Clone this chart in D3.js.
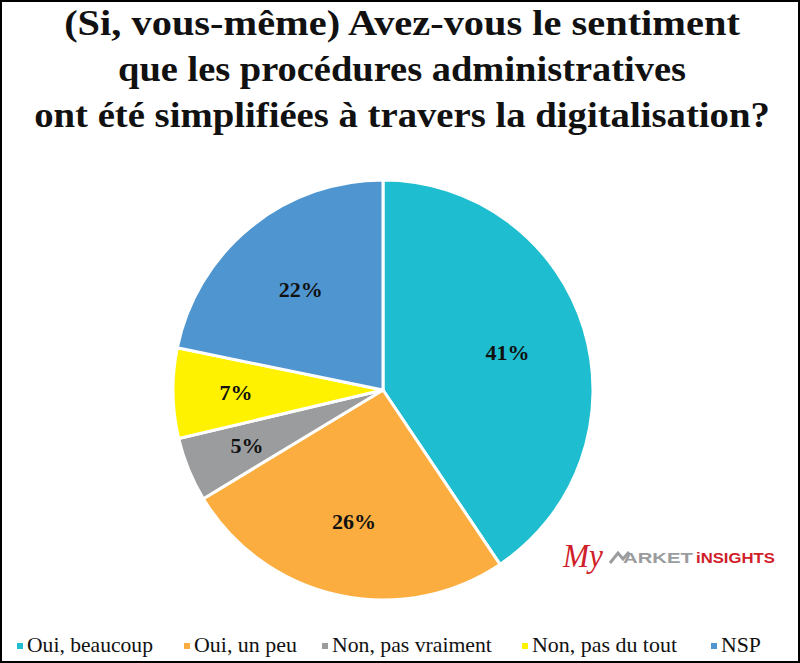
<!DOCTYPE html>
<html>
<head>
<meta charset="utf-8">
<script src="https://cdn.jsdelivr.net/npm/d3@7"></script>
<style>
  body { margin: 0; background: #fff; }
  svg { display: block; }
</style>
</head>
<body>
<div id="chart"></div>
<script>
// data
const categories = ["Oui, beaucoup", "Oui, un peu", "Non, pas vraiment", "Non, pas du tout", "NSP"];
const values = [41, 26, 5, 7, 22];
const colors = ["#1ebdcf", "#fbae3f", "#9b9c9e", "#fff200", "#4f96d0"];
const titleLines = [
  "(Si, vous-même) Avez-vous le sentiment",
  "que les procédures administratives",
  "ont été simplifiées à travers la digitalisation?"
];

const SERIF = '"Liberation Serif", "Times New Roman", serif';
const SANS = '"Liberation Sans", Arial, sans-serif';

const width = 800, height = 663;
const cx = 383, cy = 390, radius = 210;

const svg = d3.select("#chart").append("svg")
  .attr("width", width)
  .attr("height", height);

// squeeze a text horizontally to a given width, anchored at x (start) or centre
function fitWidth(sel, w, x, y, anchor) {
  sel.each(function (d, i) {
    const natural = this.getComputedTextLength();
    const target = typeof w === "function" ? w(d, i) : w;
    const tx = typeof x === "function" ? x(d, i) : x;
    const ty = typeof y === "function" ? y(d, i) : y;
    d3.select(this)
      .attr("text-anchor", anchor)
      .attr("transform", `translate(${tx},${ty}) scale(${target / natural},1)`);
  });
}

// frame
svg.append("rect")
  .attr("x", 1).attr("y", 1)
  .attr("width", width - 2).attr("height", height - 2)
  .attr("fill", "#fff")
  .attr("stroke", "#000")
  .attr("stroke-width", 2);

// title
const titleWidths = [676, 568, 736];
svg.append("g")
  .selectAll("text")
  .data(titleLines)
  .join("text")
  .style("font-family", SERIF)
  .style("font-weight", "bold")
  .style("font-size", "36px")
  .attr("fill", "#111")
  .text(d => d)
  .call(fitWidth, (d, i) => titleWidths[i], width / 2 + 2, (d, i) => 35 + i * 46, "middle");

// pie
const table = categories.map((c, i) => ({ name: c, value: values[i], color: colors[i] }));
const pie = d3.pie().sort(null).value(d => d.value);
const arc = d3.arc().innerRadius(0).outerRadius(radius);
const arcs = pie(table);

const g = svg.append("g").attr("transform", `translate(${cx},${cy})`);

g.selectAll("path")
  .data(arcs)
  .join("path")
  .attr("d", arc)
  .attr("fill", d => d.data.color)
  .attr("stroke", "#fff")
  .attr("stroke-width", 3)
  .attr("stroke-linejoin", "round");

// labels, small slices pulled a bit further out
const labelR = [0.62, 0.64, 0.70, 0.70, 0.62];
g.selectAll("text")
  .data(arcs)
  .join("text")
  .style("font-family", SERIF)
  .style("font-weight", "bold")
  .style("font-size", "22px")
  .attr("transform", (d, i) => {
    const a = (d.startAngle + d.endAngle) / 2;
    const r = radius * labelR[i];
    return `translate(${Math.sin(a) * r},${-Math.cos(a) * r})`;
  })
  .attr("text-anchor", "middle")
  .attr("dominant-baseline", "central")
  .attr("fill", "#111")
  .text(d => d.data.value + "%");

// legend
const legendX = [17, 184, 322, 522, 711];
const legendW = [126, 103, 160, 145, 40];
const legend = svg.append("g")
  .selectAll("g")
  .data(table)
  .join("g")
  .attr("transform", (d, i) => `translate(${legendX[i]},646)`);

legend.append("rect")
  .attr("x", 0).attr("y", -3)
  .attr("width", 6).attr("height", 6)
  .attr("fill", d => d.color);

legend.append("text")
  .style("font-family", SERIF)
  .style("font-size", "21px")
  .attr("fill", "#111")
  .text(d => d.name)
  .call(fitWidth, (d, i) => legendW[i], 10, 6, "start");

// logo
const logo = svg.append("g").attr("transform", "translate(563,563)");
logo.append("text")
  .style("font-family", SERIF)
  .style("font-style", "italic")
  .style("font-size", "34px")
  .attr("fill", "#d0202a")
  .text("My")
  .call(fitWidth, 40, 0, 4, "start");
logo.append("polyline")
  .attr("points", "47,0 55,-10 60,-4 66,-11")
  .attr("fill", "none")
  .attr("stroke", "#9a9c9e")
  .attr("stroke-width", 3);
logo.append("text")
  .style("font-family", SANS)
  .style("font-weight", "bold")
  .style("font-size", "15px")
  .attr("fill", "#9a9c9e")
  .text("ARKET")
  .call(fitWidth, 70, 60, 0, "start");
logo.append("text")
  .style("font-family", SANS)
  .style("font-weight", "bold")
  .style("font-size", "15px")
  .attr("fill", "#d0202a")
  .text("iNSIGHTS")
  .call(fitWidth, 79, 133, 0, "start");
</script>
</body>
</html>
